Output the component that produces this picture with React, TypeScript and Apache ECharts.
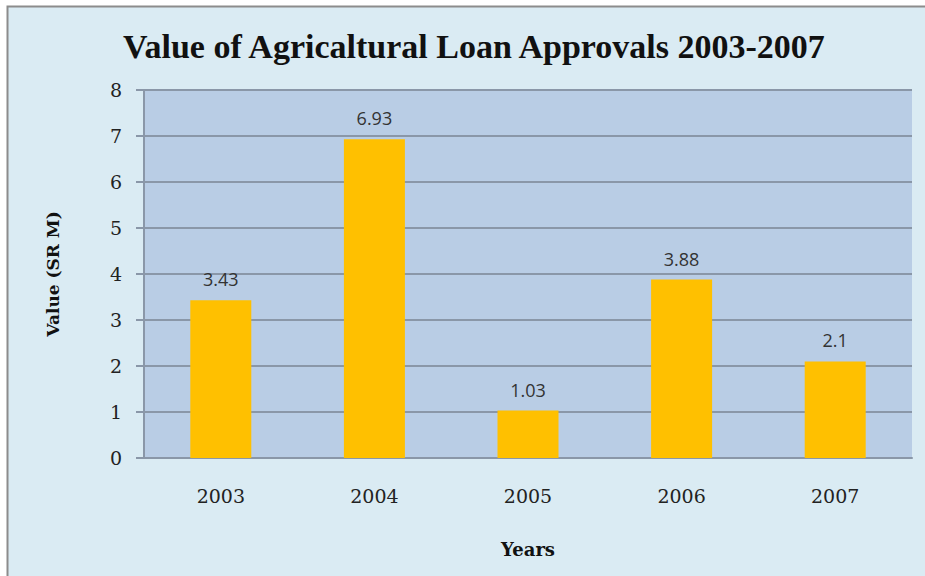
import React, { useEffect, useRef } from "react";
import * as echarts from "echarts";

const categories = ["2003", "2004", "2005", "2006", "2007"];
const values = [3.43, 6.93, 1.03, 3.88, 2.1];
const valueLabels = ["3.43", "6.93", "1.03", "3.88", "2.1"];
const titleText = "Value of Agricaltural Loan Approvals 2003-2007";
const xName = "Years";
const yName = "Value (SR M)";

export default function App() {
  const ref = useRef<HTMLDivElement>(null);
  useEffect(() => {
    if (!ref.current) return;
    const chart = echarts.init(ref.current, null, { renderer: "svg" });
    const serif = "'Liberation Serif', 'DejaVu Serif', serif";
    const dserif = "'DejaVu Serif', 'Liberation Serif', serif";
    chart.setOption({
      animation: false,
      backgroundColor: "#ffffff",
      graphic: [
        {
          type: "rect",
          z: -10,
          silent: true,
          shape: { x: 7.5, y: 6.5, width: 930, height: 580 },
          style: { fill: "#daebf3", stroke: "#8c8c8c", lineWidth: 2 },
        },
      ],
      title: {
        text: titleText,
        left: 118,
        top: 24,
        textStyle: { fontFamily: serif, fontWeight: "bold", fontSize: 34, color: "#111" },
      },
      grid: {
        left: 144,
        top: 90,
        right: 13,
        bottom: 118,
        show: true,
        backgroundColor: "#b9cde5",
        borderWidth: 0,
      },
      xAxis: {
        type: "category",
        data: categories,
        name: xName,
        nameLocation: "middle",
        nameGap: 82,
        nameTextStyle: { fontFamily: dserif, fontWeight: "bold", fontSize: 18, color: "#111" },
        axisLine: { show: true, lineStyle: { color: "#8a97a8", width: 2 } },
        axisTick: { show: false },
        axisLabel: { fontFamily: dserif, fontSize: 19, color: "#222", margin: 28 },
      },
      yAxis: {
        type: "value",
        min: 0,
        max: 8,
        interval: 1,
        name: yName,
        nameLocation: "middle",
        nameGap: 83,
        nameTextStyle: { fontFamily: dserif, fontWeight: "bold", fontSize: 17, color: "#111" },
        axisLine: { show: true, lineStyle: { color: "#8a97a8", width: 2 } },
        axisTick: { show: true, length: 8, lineStyle: { color: "#8a97a8", width: 2 } },
        splitLine: { show: true, lineStyle: { color: "#8a97a8", width: 2 } },
        axisLabel: { fontFamily: dserif, fontSize: 19, color: "#222", margin: 22 },
      },
      series: [
        {
          type: "bar",
          data: values,
          barWidth: 61,
          itemStyle: { color: "#ffc000" },
          label: {
            show: true,
            position: "top",
            distance: 12,
            formatter: (p: any) => valueLabels[p.dataIndex],
            fontFamily: "'Open Sans', 'Liberation Sans', sans-serif",
            fontSize: 18,
            color: "#333",
          },
        },
      ],
    });
    return () => chart.dispose();
  }, []);
  return (
    <div
      ref={ref}
      style={{ position: "absolute", left: 0, top: 0, width: 925, height: 576 }}
    />
  );
}
